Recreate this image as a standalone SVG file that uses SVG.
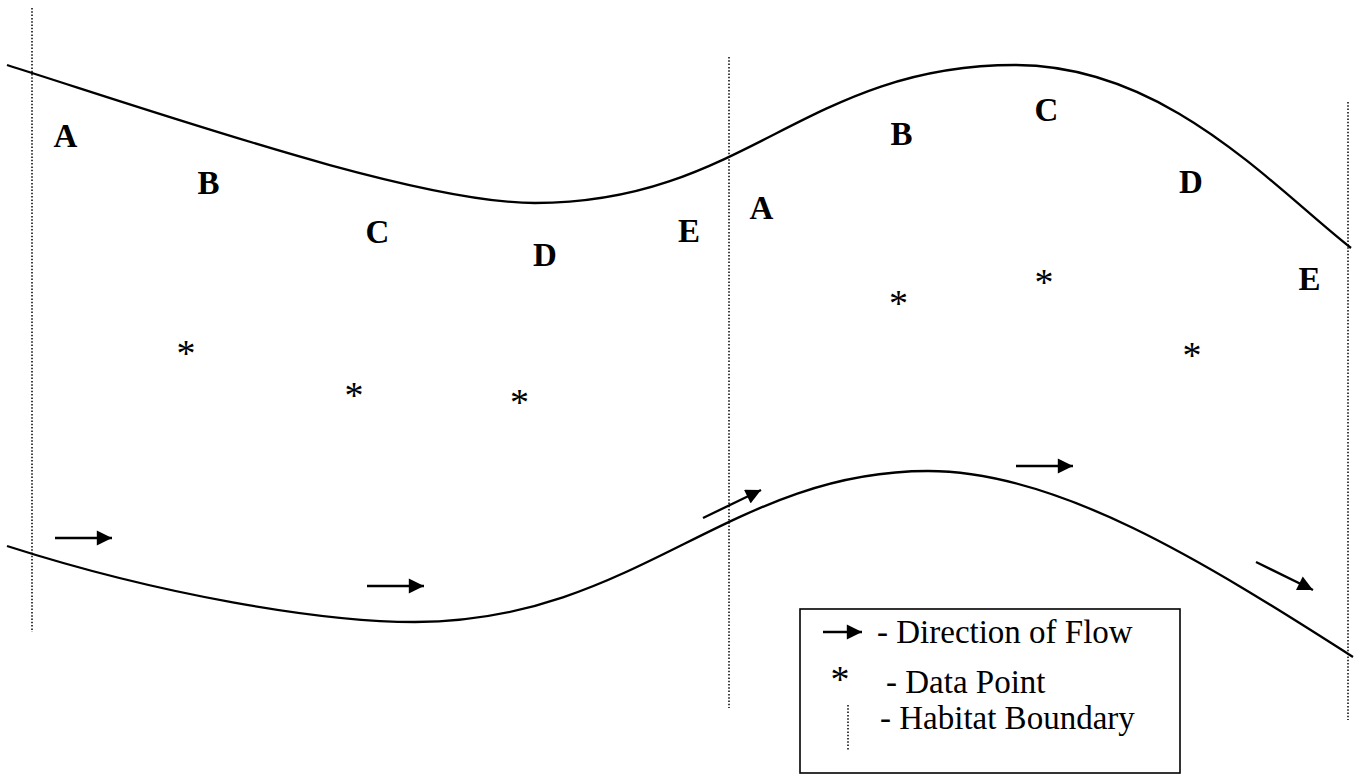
<svg xmlns="http://www.w3.org/2000/svg" width="1363" height="776" viewBox="0 0 1363 776">
  <defs>
    <marker id="head" viewBox="0 0 10 10" refX="10" refY="5" markerWidth="7" markerHeight="6.6" markerUnits="strokeWidth" orient="auto">
      <path d="M0,0 L10,5 L0,10 Z" fill="#000"/>
    </marker>
  </defs>
  <style>
    .bank { fill: none; stroke: #000; stroke-width: 2.3; }
    .boundary { fill: none; stroke: #000; stroke-width: 1.5; stroke-dasharray: 1.5 1.8; }
    .flow { fill: none; stroke: #000; stroke-width: 2.3; marker-end: url(#head); }
    .site { font-family: "Liberation Serif", "Times New Roman", serif; font-weight: bold; font-size: 33px; text-anchor: middle; fill: #000; }
    .point { font-family: "Liberation Serif", "Times New Roman", serif; font-size: 38px; text-anchor: middle; fill: #000; }
    .key { font-family: "Liberation Serif", "Times New Roman", serif; font-size: 33px; fill: #000; }
  </style>
  <rect width="1363" height="776" fill="#fff"/>

  <!-- river banks -->
  <g id="banks">
    <path id="bank-top" class="bank" d="M7,65 C180,120 420,203 535,203 C745,203 805,65 1015,65 C1165,65 1271,185 1351,248"/>
    <path id="bank-bottom" class="bank" d="M7,546 C160,595 320,622 415,622 C635,622 728,471 928,471 C1058,471 1203,561 1353,657"/>
  </g>

  <!-- habitat boundaries -->
  <g id="boundaries">
    <line class="boundary" x1="32" y1="8" x2="32" y2="632"/>
    <line class="boundary" x1="729" y1="57" x2="729" y2="708"/>
    <line class="boundary" x1="1348" y1="102" x2="1348" y2="720"/>
  </g>

  <!-- flow direction arrows -->
  <g id="connectors">
    <line class="flow" x1="55" y1="538" x2="112" y2="538"/>
    <line class="flow" x1="367" y1="586" x2="424" y2="586"/>
    <line class="flow" x1="703" y1="518" x2="761" y2="490"/>
    <line class="flow" x1="1016" y1="466" x2="1073" y2="466"/>
    <line class="flow" x1="1256" y1="562" x2="1313" y2="590"/>
  </g>

  <!-- habitat 1 sites -->
  <g id="site-1A"><text class="site" x="65.5" y="147">A</text></g>
  <g id="site-1B"><text class="site" x="208.5" y="194">B</text></g>
  <g id="site-1C"><text class="site" x="377.5" y="243">C</text></g>
  <g id="site-1D"><text class="site" x="545" y="266">D</text></g>
  <g id="site-1E"><text class="site" x="689" y="242">E</text></g>

  <!-- habitat 2 sites -->
  <g id="site-2A"><text class="site" x="761.5" y="219">A</text></g>
  <g id="site-2B"><text class="site" x="901.5" y="145">B</text></g>
  <g id="site-2C"><text class="site" x="1046.5" y="121">C</text></g>
  <g id="site-2D"><text class="site" x="1191" y="193">D</text></g>
  <g id="site-2E"><text class="site" x="1309.5" y="290">E</text></g>

  <!-- data points -->
  <g id="points">
    <text class="point" x="186" y="366">*</text>
    <text class="point" x="354" y="408">*</text>
    <text class="point" x="519.5" y="415">*</text>
    <text class="point" x="898.5" y="316">*</text>
    <text class="point" x="1044" y="295">*</text>
    <text class="point" x="1192" y="368">*</text>
  </g>

  <!-- key -->
  <g id="legend">
    <rect x="800" y="609" width="380" height="164" fill="none" stroke="#000" stroke-width="1.6"/>
    <line class="flow" x1="823" y1="632" x2="862" y2="632"/>
    <text class="key" x="877" y="643">- Direction of Flow</text>
    <text class="point" x="840" y="692">*</text>
    <text class="key" x="886" y="693">- Data Point</text>
    <line class="boundary" x1="848" y1="705" x2="848" y2="750"/>
    <text class="key" x="880" y="729">- Habitat Boundary</text>
  </g>
</svg>
